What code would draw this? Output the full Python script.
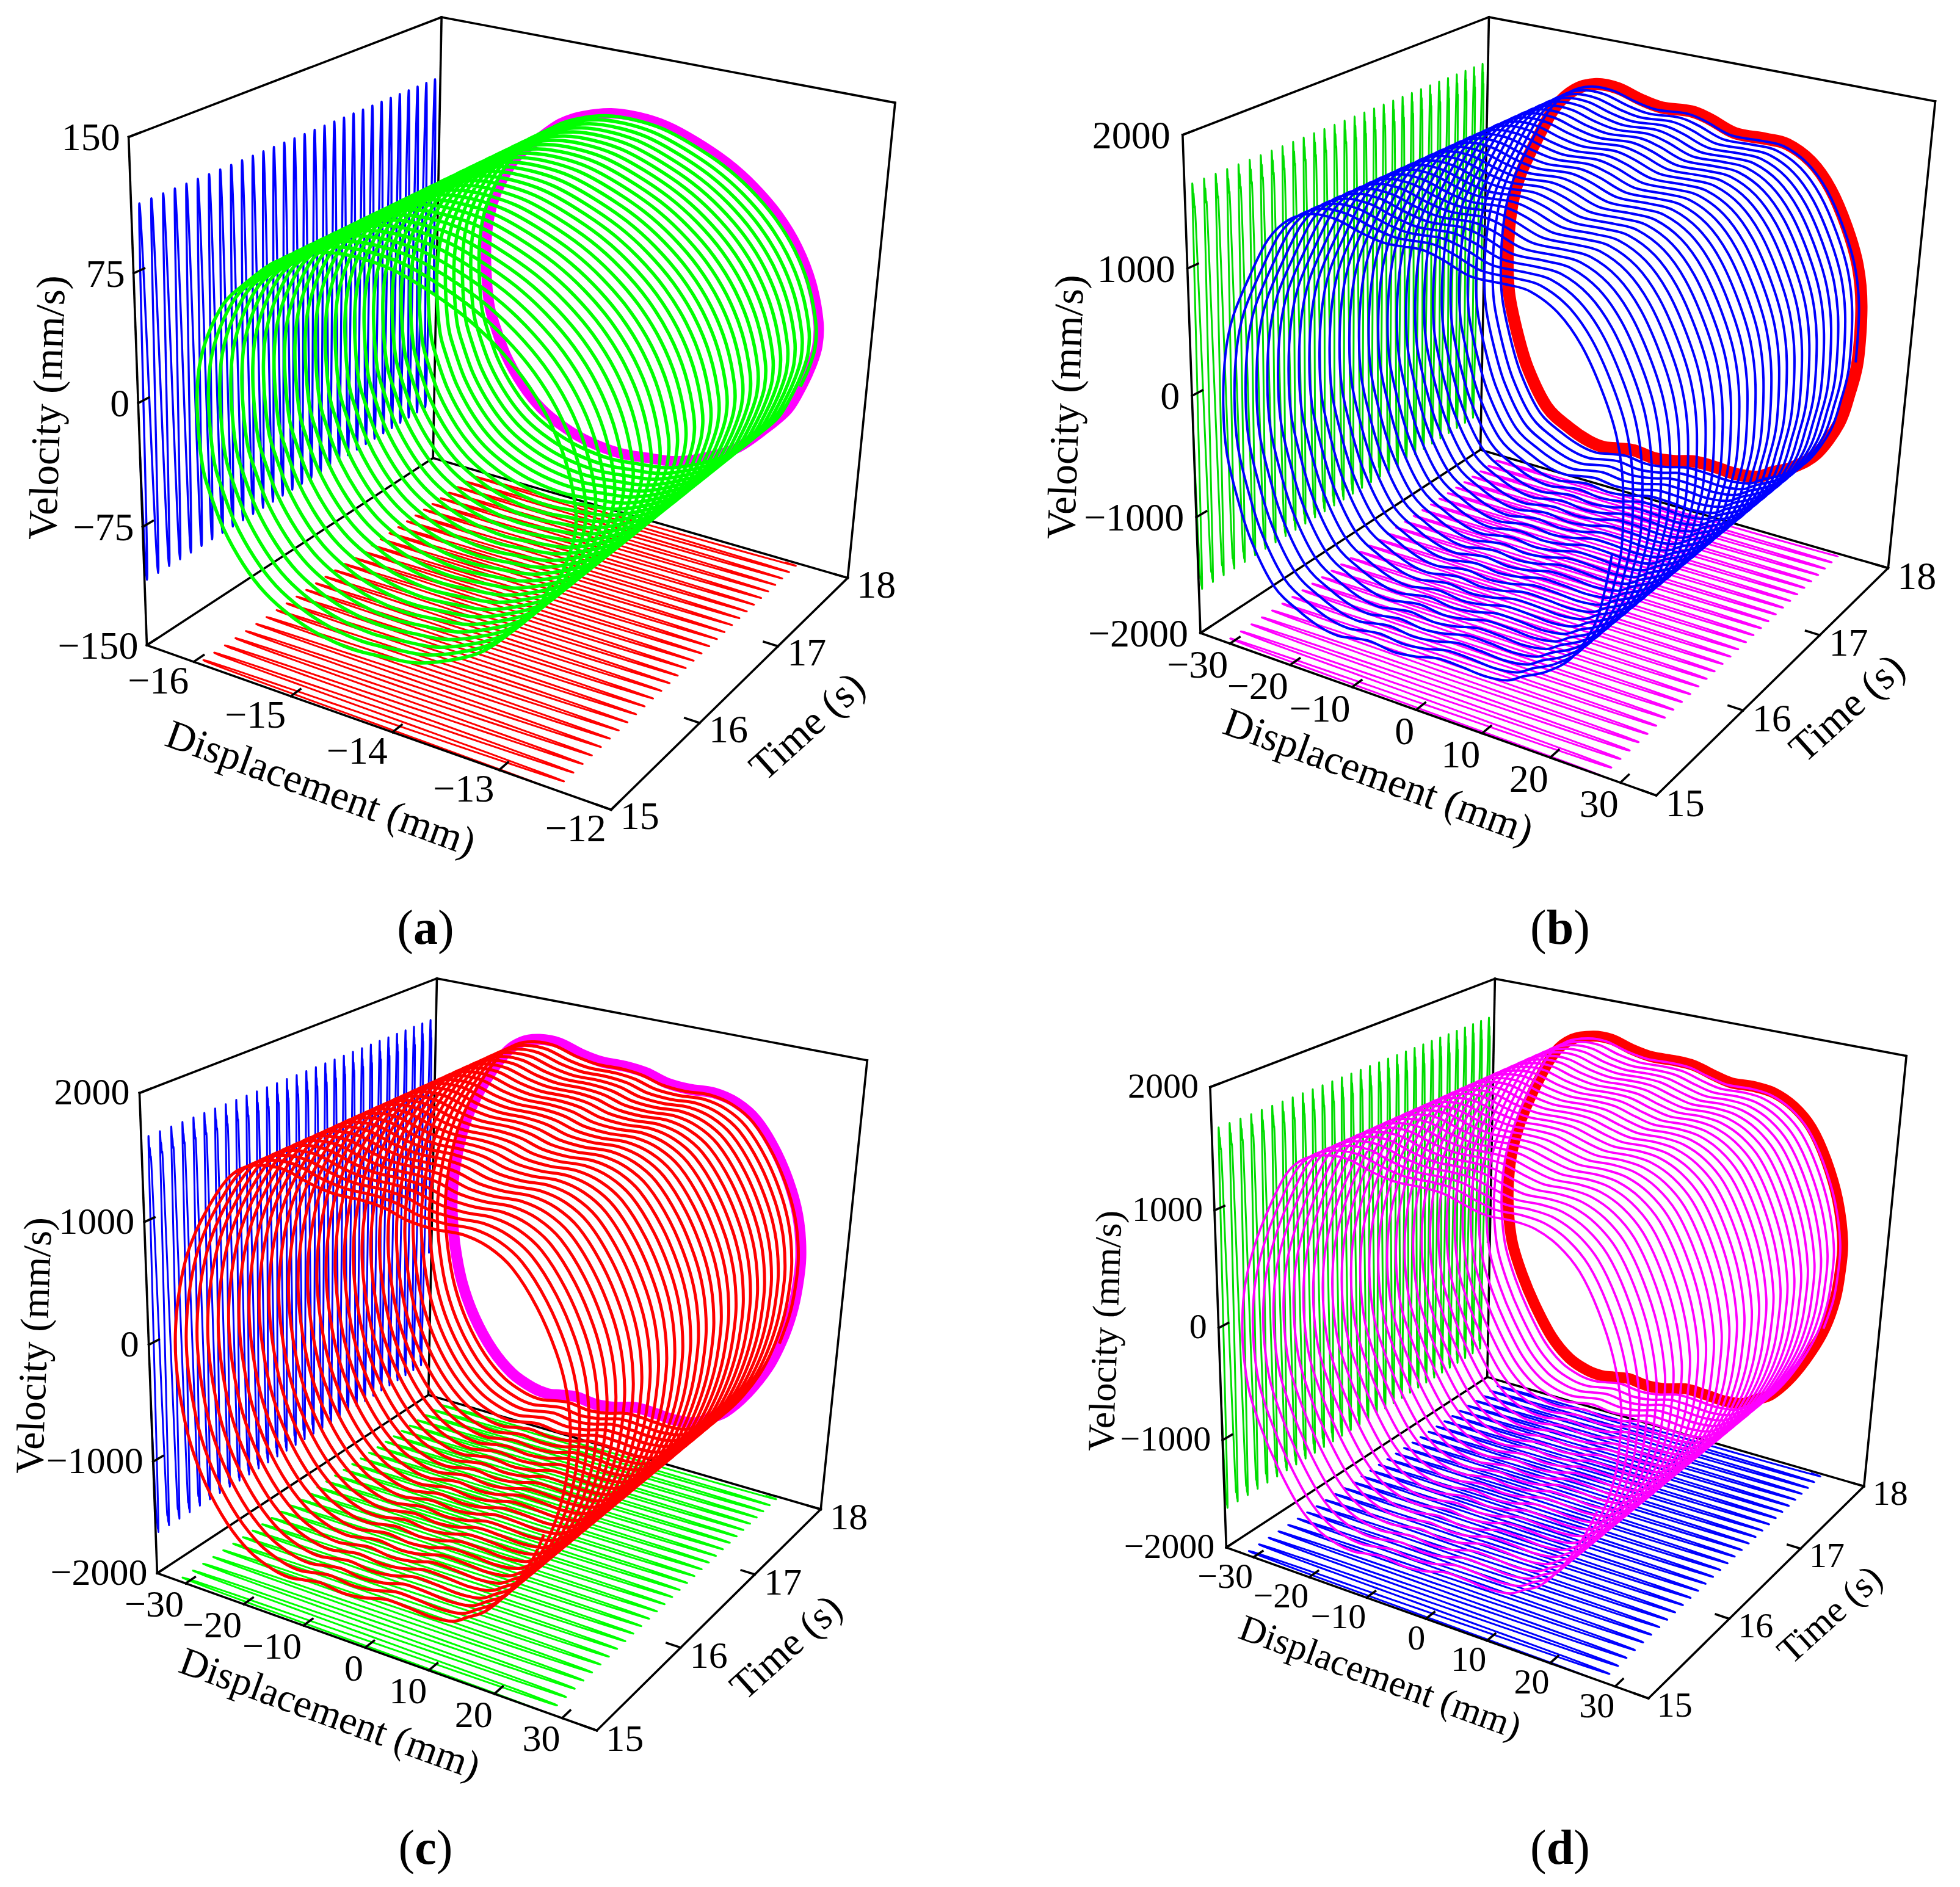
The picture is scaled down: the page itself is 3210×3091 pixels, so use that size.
import math
import numpy as np, pandas as pd, altair as alt

alt.data_transformers.disable_max_rows()

# ---- values: one limit cycle per panel (displacement mm, velocity mm/s)
DISP_A = [-12.51,-12.50,-12.54,-12.61,-12.73,-12.93,-13.20,-13.51,-13.81,-14.11,-14.42,-14.74,-15.01,-15.28,-15.50,-15.70,-15.84,-15.90,-15.94,-15.95,-15.92,-15.83,-15.67,-15.48,-15.20,-14.95,-14.68,-14.41,-14.12,-13.82,-13.50,-13.23,-12.98,-12.77,-12.61]
VEL_A = [10,-5,-18,-32,-50,-66,-84,-96,-104,-107,-109,-107,-102,-93,-80,-62,-42,-30,-9,11,30,49,69,82,98,106,111,112,110,104,95,84,70,53,33]
DISP_B = [27.2,27.4,26.6,25.4,22.4,18.8,15.5,13.3,9.9,6.4,2.9,-0.6,-4.0,-7.5,-10.3,-12.7,-15.5,-19.0,-23.0,-26.6,-28.7,-30.4,-30.8,-30.3,-29.0,-26.3,-23.3,-20.1,-16.6,-13.0,-9.3,-5.8,-1.0,2.1,6.0,10.7,14.1,17.9,21.1,24.0,26.1]
VEL_B = [226,-243,-543,-829,-1146,-1329,-1430,-1505,-1535,-1525,-1525,-1575,-1600,-1580,-1605,-1630,-1610,-1535,-1399,-1084,-775,-412,-37,369,678,1022,1341,1526,1609,1611,1556,1524,1541,1505,1434,1439,1431,1328,1139,855,560]
DISP_C = [28.0,27.9,27.4,26.2,24.4,21.4,18.2,15.5,13.3,9.9,6.4,2.9,-0.6,-4.0,-7.5,-10.3,-12.7,-15.5,-19.3,-23.1,-26.6,-29.1,-30.6,-31.3,-31.2,-30.4,-29.0,-26.6,-22.7,-19.7,-16.7,-13.3,-9.5,-6.1,-1.9,1.4,4.7,8.4,12.4,16.0,19.3,22.8,25.6,27.2]
VEL_C = [239,-32,-273,-553,-822,-1113,-1334,-1440,-1518,-1546,-1535,-1533,-1587,-1610,-1590,-1616,-1640,-1620,-1535,-1354,-1080,-769,-424,-94,193,508,803,1103,1448,1590,1642,1644,1586,1556,1557,1538,1488,1474,1485,1440,1328,1090,801,538]
DISP_D = [27.8,27.8,27.4,26.2,24.2,21.3,18.1,15.5,13.3,9.9,6.4,2.9,-0.6,-4.0,-7.5,-10.3,-12.7,-15.5,-18.9,-22.4,-25.9,-28.5,-30.6,-31.5,-31.6,-31.0,-29.5,-27.3,-23.8,-20.5,-16.7,-13.4,-9.8,-6.2,-2.3,1.1,4.6,7.6,11.4,14.7,18.1,21.2,24.0,26.4]
VEL_D = [255,-47,-289,-569,-839,-1130,-1353,-1445,-1520,-1548,-1537,-1535,-1590,-1612,-1592,-1618,-1640,-1625,-1553,-1383,-1097,-823,-519,-201,97,401,712,1024,1404,1578,1646,1650,1596,1564,1570,1561,1508,1473,1480,1460,1375,1220,961,627]

DISP_TICKS_A = [-16,-15,-14,-13,-12]
VEL_TICKS_A = [150,75,0,-75,-150]
DISP_TICKS_B = [-30,-20,-10,0,10,20,30]
VEL_TICKS_B = [2000,1000,0,-1000,-2000]
TIME_TICKS = [15,16,17,18]
CYCLES = 30            # oscillations counted between 15 s and the end of the trace
T_START, T_END = 15, 17.97
TITLES = ["Velocity (mm/s)", "Displacement (mm)", "Time (s)"]

GREEN, DGREEN, BLUE, RED, MAG = "#00ff00", "#00dc00", "#0000ff", "#ff0000", "#ff00ff"
W, H, M = 3190, 3070, 8
FONT = "Liberation Serif"

CUBE = [(0,0,0),(0,0,1),(0,1,1),(0,1,0),(1,0,0),(1,1,0),(1,1,1)]
PANELS = [
 dict(tag="a", tagw=.5, tagxy=(697,1522), disp=DISP_A, vel=VEL_A, dom=(-16.5,-12,-150,150), dt=DISP_TICKS_A, vt=VEL_TICKS_A, start=3,
      frame=[(240.8,1056.6),(211.2,223.9),(722.4,27.9),(709.2,751.2),(1000,1327.2),(1388.8,945.2),(1466.3,169.1)],
      wall=BLUE, floor=RED, ring=MAG, helix=GREEN, hw=5.6, ww=3.4, fw=3, rw=17, fs=64,
      tv=(79,668,272), td=(525,1293,20), tt=(1323,1191,318), vo=(-14,3), dto=(-8,33), tto=(15,13)),
 dict(tag="b", tagw=.556, tagxy=(2555,1522), disp=DISP_B, vel=VEL_B, dom=(-35,35,-2000,2000), dt=DISP_TICKS_B, vt=VEL_TICKS_B, start=1,
      frame=[(1966.4,1036.7),(1936.5,220.9),(2439,27.9),(2424,737.2),(2712.6,1303.3),(3092.6,930.2),(3169.2,166.1)],
      wall=DGREEN, floor=MAG, ring=RED, helix=BLUE, hw=4, ww=3, fw=3, rw=20, fs=64,
      tv=(1747,667,272), td=(2257,1273,20), tt=(3026,1161,318), vo=(-20,3), dto=(-3,37), tto=(15,15)),
 dict(tag="c", tagw=.444, tagxy=(697,3029), disp=DISP_C, vel=VEL_C, dom=(-35,35,-2000,2000), dt=DISP_TICKS_B, vt=VEL_TICKS_B, start=3,
      frame=[(257.1,2577.4),(228.6,1790.4),(715.3,1603),(702,2284.5),(977.6,2834.2),(1343.9,2473),(1420.4,1736.7)],
      wall=BLUE, floor=GREEN, ring=MAG, helix=RED, hw=5, ww=3, fw=3, rw=18, fs=62,
      tv=(57,2204,272), td=(540,2808,20), tt=(1288,2699,318), vo=(-16,0), dto=(-3,35), tto=(15,14)),
 dict(tag="d", tagw=.556, tagxy=(2555,3029), disp=DISP_D, vel=VEL_D, dom=(-35,35,-2000,2000), dt=DISP_TICKS_B, vt=VEL_TICKS_B, start=3,
      frame=[(2008.2,2534.5),(1982.3,1780.7),(2447.9,1603),(2436,2256.2),(2699.6,2782.5),(3052.8,2433.9),(3122.4,1729.9)],
      wall=DGREEN, floor=BLUE, ring=RED, helix=MAG, hw=3.8, ww=3, fw=3, rw=18, fs=58,
      tv=(1812,2180,272), td=(2260,2749,20), tt=(2998,2646,318), vo=(-19,0), dto=(-1,33), tto=(14,13)),
]

def camera(pts):
    A = []
    for (u, w, v), (x, y) in zip(CUBE, pts):
        X = [u, w, v, 1]
        A.append(X + [0,0,0,0] + [-x*k for k in X])
        A.append([0,0,0,0] + X + [-y*k for k in X])
    return np.linalg.svd(np.array(A, float))[2][-1].reshape(3, 4)

X_ENC = alt.X("x:Q", scale=alt.Scale(domain=[M, W+M], nice=False, zero=False), axis=None)
Y_ENC = alt.Y("y:Q", scale=alt.Scale(domain=[H+M, M], nice=False, zero=False), axis=None)

def line_layer(xy, color, width, interp="cardinal"):
    df = pd.DataFrame({"x": xy[0], "y": xy[1], "i": np.arange(len(xy[0]))})
    return alt.Chart(df).mark_line(color=color, strokeWidth=width, interpolate=interp, strokeJoin="round", clip=False).encode(
        x=X_ENC, y=Y_ENC, order=alt.Order("i:Q"))

layers, segs, texts = [], [], []

def minus(v):
    return str(v).replace("-", "\u2212")

for p in PANELS:
    P = camera(p["frame"])
    d0, d1, v0, v1 = p["dom"]
    def proj(u, w, v):
        q = P @ np.vstack([u, w, v, np.ones_like(u)])
        return q[0]/q[2], q[1]/q[2]
    s = p["start"]
    dd = np.array(p["disp"][s:] + p["disp"][:s], float)
    vv = np.array(p["vel"][s:] + p["vel"][:s], float)
    U, V = (dd-d0)/(d1-d0), (vv-v0)/(v1-v0)
    # position of each read point within the cycle: clockwise angle around the loop's centre
    cu, cv = (dd.max()+dd.min())/2, (vv.max()+vv.min())/2
    ang = np.arctan2((vv-cv)/(vv.max()-cv), (dd-cu)/(dd.max()-cu))
    phase = ((ang[0]-ang) % (2*math.pi)) / (2*math.pi)
    n = len(dd)
    idx = np.arange(n*CYCLES+1)
    uu = U[idx % n]; vn = V[idx % n]
    ww = (idx//n + phase[idx % n]) / CYCLES * (T_END-T_START) / 3
    # wall and floor shadows
    layers.append(line_layer(proj(np.zeros_like(ww), ww, vn), p["wall"], p["ww"]))
    layers.append(line_layer(proj(uu, ww, np.zeros_like(ww)), p["floor"], p["fw"]))
    # frame
    for a, b in [((0,0,0),(0,0,1)),((0,0,1),(0,1,1)),((0,1,1),(0,1,0)),((0,1,0),(0,0,0)),((0,0,0),(1,0,0)),
                 ((1,0,0),(1,1,0)),((1,1,0),(0,1,0)),((0,1,1),(1,1,1)),((1,1,1),(1,1,0))]:
        xa, ya = proj(*[np.array([c], float) for c in a]); xb, yb = proj(*[np.array([c], float) for c in b])
        segs.append(dict(x=xa[0], y=ya[0], x2=xb[0], y2=yb[0]))
    # ticks and labels
    TL = 0.03
    for t in p["vt"]:
        v = (t-v0)/(v1-v0)
        xa, ya = proj(np.array([0.]), np.array([0.]), np.array([v])); xb, yb = proj(np.array([0.]), np.array([TL]), np.array([v]))
        segs.append(dict(x=xa[0], y=ya[0], x2=xb[0], y2=yb[0]))
        texts.append(dict(x=xa[0]+p["vo"][0], y=ya[0]+p["vo"][1], text=minus(t), angle=0, fs=p["fs"], align="right", weight="normal"))
    for t in p["dt"]:
        u = (t-d0)/(d1-d0)
        xa, ya = proj(np.array([u]), np.array([0.]), np.array([0.])); xb, yb = proj(np.array([u]), np.array([TL]), np.array([0.]))
        segs.append(dict(x=xa[0], y=ya[0], x2=xb[0], y2=yb[0]))
        texts.append(dict(x=xa[0]+p["dto"][0], y=ya[0]+p["dto"][1], text=minus(t), angle=0, fs=p["fs"], align="right", weight="normal"))
    for t in TIME_TICKS:
        w = (t-15)/3
        xa, ya = proj(np.array([1.]), np.array([w]), np.array([0.])); xb, yb = proj(np.array([1-TL]), np.array([w]), np.array([0.]))
        segs.append(dict(x=xa[0], y=ya[0], x2=xb[0], y2=yb[0]))
        texts.append(dict(x=xa[0]+p["tto"][0], y=ya[0]+p["tto"][1], text=str(t), angle=0, fs=p["fs"], align="left", weight="normal"))
    # titles
    for name, key in zip(TITLES, ["tv", "td", "tt"]):
        x, y, a = p[key]
        texts.append(dict(x=x, y=y, text=name, angle=a, fs=p["fs"]+3, align="center", weight="normal"))
    # panel tag
    fs = 80; cx, cy = p["tagxy"]; total = (.666+p["tagw"])*fs; x0 = cx-total/2
    texts.append(dict(x=x0, y=cy, text="(", angle=0, fs=fs, align="left", weight="normal"))
    texts.append(dict(x=x0+.333*fs, y=cy, text=p["tag"], angle=0, fs=fs, align="left", weight="bold"))
    texts.append(dict(x=x0+(.333+p["tagw"])*fs, y=cy, text=")", angle=0, fs=fs, align="left", weight="normal"))
    # final phase portrait at 18 s and the trajectory
    p["_ring"] = line_layer(proj(U, np.ones_like(U), V), p["ring"], p["rw"], "cardinal-closed")
    p["_helix"] = line_layer(proj(uu, ww, vn), p["helix"], p["hw"])

frame = alt.Chart(pd.DataFrame(segs)).mark_rule(color="black", strokeWidth=3.6, strokeCap="square").encode(
    x=X_ENC, y=Y_ENC, x2="x2:Q", y2="y2:Q")
layers.append(frame)
for p in PANELS:
    layers.append(p["_ring"]); layers.append(p["_helix"])

tdf = pd.DataFrame(texts)
for (al, wt), g in tdf.groupby(["align", "weight"]):
    layers.append(alt.Chart(g).mark_text(font=FONT, align=al, baseline="middle", fontWeight=wt, color="black").encode(
        x=X_ENC, y=Y_ENC, text="text:N", angle=alt.Angle("angle:Q", scale=None), size=alt.Size("fs:Q", scale=None)))

chart = alt.layer(*layers).properties(width=W, height=H, padding=0, background="white",
    autosize=alt.AutoSizeParams(type="none")).configure_view(stroke=None)
chart.save("out.html", embed_options={"renderer": "svg", "actions": False})
